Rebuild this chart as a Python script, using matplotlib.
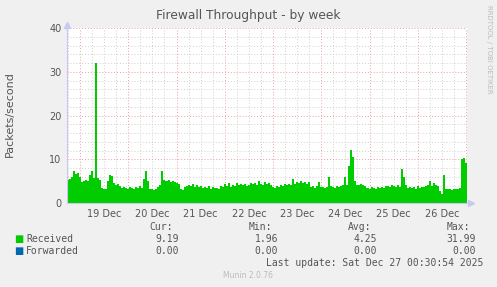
import matplotlib
matplotlib.use("Agg")
import matplotlib.pyplot as plt
import matplotlib.dates as mdates
import pandas as pd

# hourly packet rates, starting Dec 18 17:30
received = [
    5.3, 5.5, 6.0, 7.3, 6.6, 6.8, 6.0, 4.9, 5.0, 5.3, 5.0, 6.5, 7.3, 5.8,
    31.99, 5.6, 5.2, 3.4, 3.2, 3.3, 5.0, 6.4, 6.2, 4.5, 4.1, 4.3,
    3.8, 3.5, 3.6, 3.4, 3.3, 3.6, 3.5, 3.2, 3.6, 3.4, 3.8, 3.5,
    5.5, 7.4, 5.0, 3.1, 3.3, 3.0, 3.2, 3.6, 4.0, 7.2,
    5.3, 5.0, 5.2, 4.9, 5.1, 4.8, 4.6, 4.4, 3.1, 3.0,
    3.6, 3.9, 4.2, 3.8, 4.4, 3.7, 4.0, 3.6, 3.9,
    3.5, 3.7, 3.4, 3.8, 3.3, 3.6, 3.4, 3.5, 3.2,
    3.9, 3.6, 4.3, 3.8, 4.6, 3.7, 4.2, 3.9, 4.5, 4.0, 4.4,
    4.1, 4.3, 3.9, 4.2, 4.5,
    4.3, 4.6, 4.2, 5.0, 4.4, 4.1, 4.7, 4.3, 4.5, 4.2,
    3.6, 3.5, 3.8, 3.7, 4.1, 3.9, 4.4, 4.0, 4.3, 4.2, 5.5,
    4.3, 4.9, 4.6, 5.0, 4.5, 4.8, 4.4, 4.7,
    3.6, 3.8, 3.5, 3.9, 4.8, 3.7, 3.6, 3.4, 3.7, 5.9, 3.8,
    3.7, 3.5, 3.8, 3.6, 3.8, 4.0, 5.9, 4.1,
    8.5, 12.1, 10.5, 5.0, 4.2, 4.0, 4.4, 4.1, 3.9,
    3.4, 3.2, 3.6, 3.5, 3.3, 3.7, 3.4, 3.6, 3.5, 3.8,
    3.9, 3.6, 4.2, 3.8, 3.7, 4.0, 3.6, 7.8, 5.9, 4.0,
    3.5, 3.7, 3.4, 3.6, 3.3, 3.8, 3.5, 3.7, 3.6, 3.9,
    4.1, 5.0, 3.8, 4.6, 4.2, 3.9, 2.8, 1.96, 6.4, 3.3,
    3.1, 3.2, 3.0, 3.3, 3.2, 3.1, 3.4, 10.0, 10.4, 9.19,
]
forwarded = [0.0] * len(received)
times = pd.date_range("2025-12-18 17:30", periods=len(received) + 1, freq="h")

day_labels = ["19 Dec", "20 Dec", "21 Dec", "22 Dec", "23 Dec", "24 Dec", "25 Dec", "26 Dec"]
day_starts = pd.date_range("2025-12-19", periods=len(day_labels), freq="D")
y_ticks = [0, 10, 20, 30, 40]

stats = {
    "Received": ["9.19", "1.96", "4.25", "31.99"],
    "Forwarded": ["0.00", "0.00", "0.00", "0.00"],
}
colors = {"Received": "#00CC00", "Forwarded": "#0066B3"}

bg = "#F0F0F0"
txt = "#555555"

fig = plt.figure(figsize=(4.97, 2.87), dpi=100, facecolor=bg)
ax = fig.add_axes([67 / 497, 1 - 203 / 287, 400 / 497, 175 / 287])
ax.set_facecolor("white")

x = mdates.date2num(times)
ax.fill_between(x, received + [received[-1]], step="post", color=colors["Received"], lw=0)
ax.fill_between(x, forwarded + [forwarded[-1]], step="post", color=colors["Forwarded"], lw=0)

ax.set_xlim(x[0], x[-1])
ax.set_ylim(0, 40)

# grid: gray every 6h / 2 units, red at midnight / every 10
for t in pd.date_range("2025-12-18 18:00", "2025-12-27 00:00", freq="6h"):
    red = t.hour == 0
    ax.axvline(mdates.date2num(t), color="#E8A0A0" if red else "#D0D0D0",
               lw=0.7, ls=(0, (1, 2)), zorder=0.5)
for v in range(2, 41, 2):
    ax.axhline(v, color="#E8A0A0" if v % 10 == 0 else "#D0D0D0",
               lw=0.7, ls=(0, (1, 2)), zorder=0.5)

noon = mdates.date2num(day_starts + pd.Timedelta(hours=12))
ax.set_xticks(noon)
ax.set_xticklabels(day_labels)
ax.set_yticks(y_ticks)
ax.tick_params(axis="both", length=0, labelsize=7, colors=txt, pad=4)

for s in ["top", "right"]:
    ax.spines[s].set_visible(False)
for s in ["left", "bottom"]:
    ax.spines[s].set_color("#C8C8F0")
    ax.spines[s].set_linewidth(0.8)
# axis arrows
ax.plot([0], [1.02], marker="^", ms=4, color="#C8C8F0", transform=ax.transAxes, clip_on=False)
ax.plot([1.01], [0], marker=">", ms=4, color="#C8C8F0", transform=ax.transAxes, clip_on=False)

fig.text(10 / 497, 1 - 114 / 287, "Packets/second", rotation=90,
         ha="center", va="center", fontsize=8, color=txt)
fig.text(248 / 497, 1 - 15 / 287, "Firewall Throughput - by week",
         ha="center", va="center", fontsize=8.8, color=txt)
fig.text(489 / 497, 1 - 5 / 287, "RRDTOOL / TOBI OETIKER", rotation=270,
         ha="center", va="top", fontsize=5, color="#BBBBBB")

# legend table
mono = "DejaVu Sans Mono"
cols_x = [179, 278, 377, 476]
for cx, head in zip(cols_x, ["Cur:", "Min:", "Avg:", "Max:"]):
    fig.text((cx - 6) / 497, 1 - 227 / 287, head, ha="right", va="center",
             fontsize=7, family=mono, color=txt)
for row, name in enumerate(["Received", "Forwarded"]):
    yy = 1 - (239 + 12 * row) / 287
    fig.text(14 / 497, yy, "\u25A0", ha="left", va="center", fontsize=7, color=colors[name])
    fig.text(26 / 497, yy, name, ha="left", va="center", fontsize=7, family=mono, color=txt)
    for cx, val in zip(cols_x, stats[name]):
        fig.text(cx / 497, yy, val, ha="right", va="center", fontsize=7, family=mono, color=txt)
fig.text(483 / 497, 1 - 263 / 287, "Last update: Sat Dec 27 00:30:54 2025",
         ha="right", va="center", fontsize=7, family=mono, color=txt)
fig.text(248 / 497, 1 - 276 / 287, "Munin 2.0.76", ha="center", va="center",
         fontsize=5.5, color="#BBBBBB")

fig.savefig("out.png", dpi=100, facecolor=bg)
